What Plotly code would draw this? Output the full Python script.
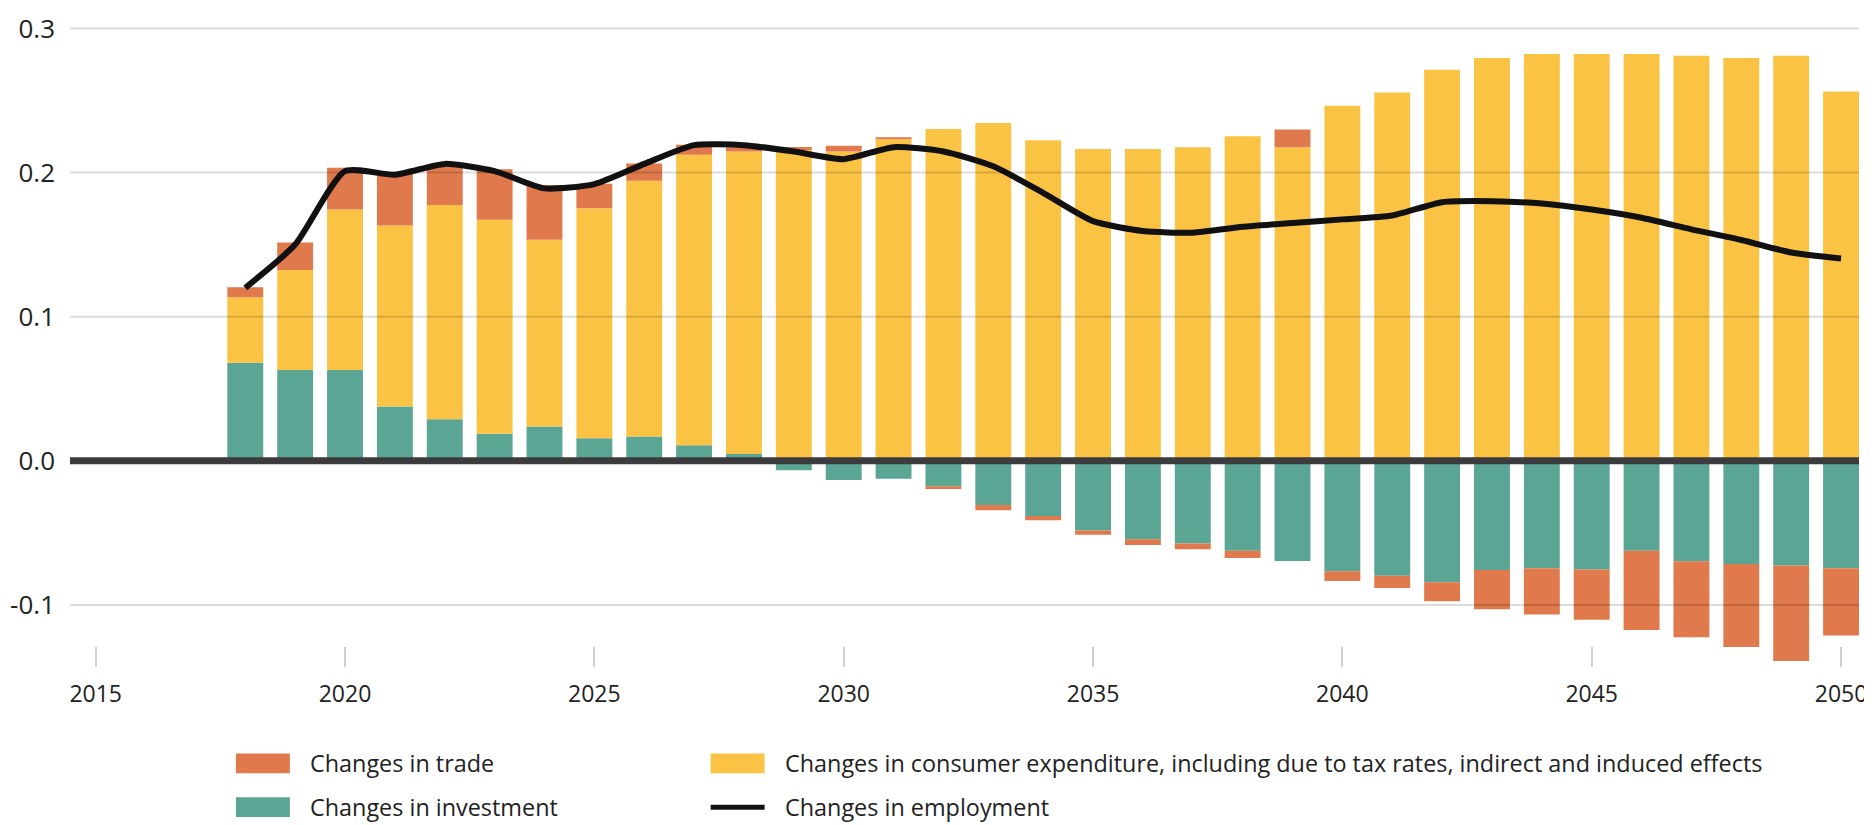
import plotly.graph_objects as go

years = list(range(2018, 2051))

investment = [0.068, 0.063, 0.063, 0.0376, 0.0288, 0.0188, 0.0238, 0.0157, 0.0169, 0.0107,
              0.0047, -0.0066, -0.0134, -0.0125, -0.0176, -0.0307, -0.0383, -0.0484, -0.0544,
              -0.0574, -0.0624, -0.0696, -0.0767, -0.0797, -0.0843, -0.0758, -0.0746, -0.0755,
              -0.0624, -0.0698, -0.0716, -0.0726, -0.0746]

consumer = [0.0455, 0.0694, 0.1114, 0.1257, 0.1486, 0.1484, 0.1296, 0.1596, 0.1774, 0.2016,
            0.2099, 0.2157, 0.2146, 0.2231, 0.2302, 0.2344, 0.2224, 0.2164, 0.2164, 0.2176,
            0.2252, 0.2176, 0.2463, 0.2555, 0.2714, 0.2794, 0.2822, 0.2822, 0.2822, 0.2810,
            0.2794, 0.2810, 0.2562]

trade = [0.0069, 0.0191, 0.029, 0.036, 0.028, 0.035, 0.038, 0.017, 0.012, 0.007,
         0.003, 0.002, 0.004, 0.0014, -0.002, -0.0037, -0.003, -0.003, -0.004, -0.004,
         -0.005, 0.0122, -0.0067, -0.0085, -0.0131, -0.0273, -0.032, -0.0348, -0.055,
         -0.0526, -0.0577, -0.0664, -0.0467]

employment = [0.120, 0.150, 0.201, 0.1985, 0.206, 0.201, 0.189, 0.192, 0.206, 0.219,
              0.219, 0.2146, 0.2093, 0.2176, 0.2146, 0.2043, 0.1859, 0.1663, 0.1594, 0.1583,
              0.1624, 0.1650, 0.1675, 0.1702, 0.1794, 0.1801, 0.1785, 0.1743, 0.1686, 0.1606,
              0.1532, 0.1445, 0.1403]

y_ticks = [-0.1, 0.0, 0.1, 0.2, 0.3]
y_tick_labels = ["-0.1", "0.0", "0.1", "0.2", "0.3"]
x_ticks = [2015, 2020, 2025, 2030, 2035, 2040, 2045, 2050]

names = {
    "trade": "Changes in trade",
    "investment": "Changes in investment",
    "consumer": "Changes in consumer expenditure, including due to tax rates, indirect and induced effects",
    "employment": "Changes in employment",
}

ORANGE = "#E0794B"
YELLOW = "#FBC344"
TEAL = "#5BA594"
BLACK = "#111111"
FONT = "Open Sans"

# the page body has an 8px margin; figure size compensates so it fills the window
OFF = 8
W, H = 1872 - OFF, 825 - OFF
ML, MR, MT, MB = 69 - OFF, 13, 10 - OFF, 158

fig = go.Figure()
fig.add_bar(x=years, y=investment, name=names["investment"], marker=dict(color=TEAL, line_width=0))
fig.add_bar(x=years, y=consumer, name=names["consumer"], marker=dict(color=YELLOW, line_width=0))
fig.add_bar(x=years, y=trade, name=names["trade"], marker=dict(color=ORANGE, line_width=0))
fig.add_scatter(x=years, y=employment, name=names["employment"], mode="lines",
                line=dict(color=BLACK, width=6, shape="spline", smoothing=0.6))

shapes = []
for v in y_ticks:
    if v == 0:
        continue
    shapes.append(dict(type="line", xref="paper", yref="y", x0=0, x1=1, y0=v, y1=v,
                       line=dict(color="rgba(0,0,0,0.14)", width=2), layer="above"))
shapes.append(dict(type="line", xref="paper", yref="y", x0=0, x1=1, y0=0, y1=0,
                   line=dict(color="#3c3c3e", width=7), layer="above"))

# custom legend: page-pixel positions converted to paper coordinates
pw = W - ML - MR
ph = H - MT - MB


def px(x):
    return (x - OFF - ML) / pw


def py(y):
    return (H - MB - (y - OFF)) / ph


legend_items = [
    ("rect", ORANGE, names["trade"], 235, 764),
    ("rect", TEAL, names["investment"], 235, 808),
    ("rect", YELLOW, names["consumer"], 710, 764),
    ("line", BLACK, names["employment"], 710, 808),
]
annotations = []
for kind, color, text, x0, yc in legend_items:
    if kind == "rect":
        shapes.append(dict(type="rect", xref="paper", yref="paper",
                           x0=px(x0), x1=px(x0 + 54), y0=py(yc + 10), y1=py(yc - 10),
                           fillcolor=color, line_width=0, layer="above"))
    else:
        shapes.append(dict(type="line", xref="paper", yref="paper",
                           x0=px(x0), x1=px(x0 + 54), y0=py(yc), y1=py(yc),
                           line=dict(color=color, width=5), layer="above"))
    annotations.append(dict(xref="paper", yref="paper", x=px(x0 + 73), y=py(yc),
                            xanchor="left", yanchor="middle", text=text, showarrow=False,
                            borderpad=0,
                            font=dict(family=FONT, size=23.4, color="#222")))

fig.update_layout(
    width=W, height=H,
    margin=dict(l=ML, r=MR, t=MT, b=MB),
    barmode="relative", bargap=0.28,
    plot_bgcolor="white", paper_bgcolor="white",
    showlegend=False,
    font=dict(family=FONT, color="#222"),
    shapes=shapes, annotations=annotations,
    xaxis=dict(range=[2014.485, 2050.36], tickmode="array", tickvals=x_ticks,
               ticks="inside", ticklen=20, tickwidth=1.5, tickcolor="#cfcfcf",
               showgrid=False, zeroline=False, showline=False, ticklabeloverflow="allow",
               tickfont=dict(family=FONT, size=23, color="#222"), ticklabelstandoff=11),
    yaxis=dict(range=[-0.1431, 0.31], tickmode="array", tickvals=y_ticks, ticktext=y_tick_labels,
               showgrid=False, zeroline=False, showline=False, ticks="", ticklabeloverflow="allow",
               tickfont=dict(family=FONT, size=26, color="#222"), ticklabelstandoff=14),
)

fig.write_html("out.html")
